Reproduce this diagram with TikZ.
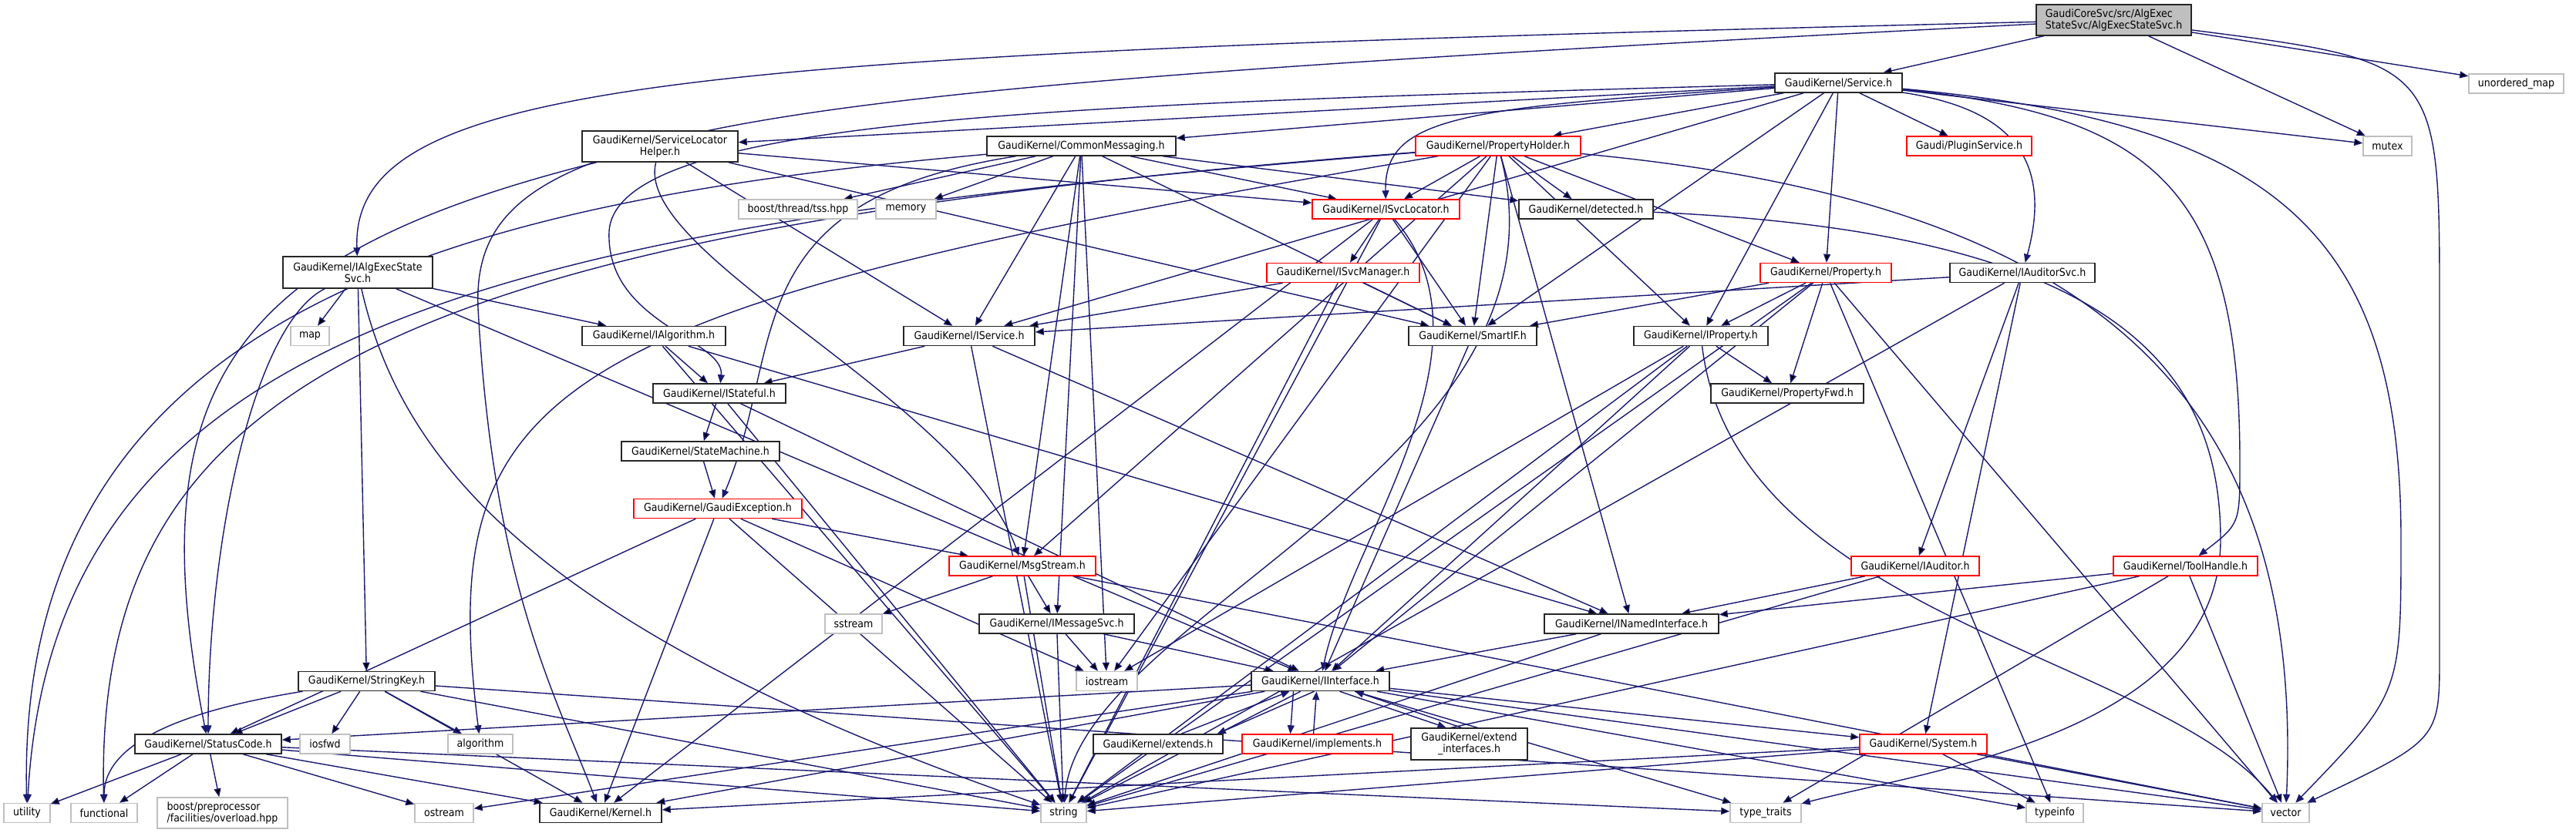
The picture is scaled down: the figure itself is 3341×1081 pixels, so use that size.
\documentclass[tikz,border=0pt]{standalone}
\usepackage{fontspec}
\setmainfont{DejaVu Sans Condensed}
\usetikzlibrary{arrows.meta,backgrounds}

\definecolor{depblue}{HTML}{191970}
\definecolor{sysgray}{HTML}{BFBFBF}

\begin{document}
\begin{tikzpicture}[x=1pt,y=-1pt,
  hdr/.style={draw=black!85,line width=1.5pt,fill=white,inner sep=0pt,align=center,
    font=\fontsize{14}{15}\selectfont},
  redhdr/.style={hdr,draw=red},
  syshdr/.style={hdr,draw=sysgray},
  dep/.style={draw=depblue,line width=1.4pt,-{Triangle[length=11pt,width=9pt]}}]
  \useasboundingbox (0,0) rectangle (3341,1081);

  % row 0 and 1
  \node[hdr,fill=sysgray,align=left,minimum width=201pt,minimum height=40pt] (aes) at (2741.5,26) {GaudiCoreSvc/src/AlgExec\\StateSvc/AlgExecStateSvc.h};
  \node[hdr,minimum width=165pt,minimum height=25pt] (service) at (2384.5,107.5) {GaudiKernel/Service.h};
  \node[syshdr,minimum width=123pt,minimum height=25pt] (umap) at (3263.5,108.5) {unordered\_map};

  % row 2
  \node[hdr,minimum width=202pt,minimum height=40pt] (slh) at (856,190) {GaudiKernel/ServiceLocator\\Helper.h};
  \node[hdr,minimum width=245pt,minimum height=25pt] (cmsg) at (1402.5,189.5) {GaudiKernel/CommonMessaging.h};
  \node[redhdr,minimum width=214pt,minimum height=25pt] (pholder) at (1943,189.5) {GaudiKernel/PropertyHolder.h};
  \node[redhdr,minimum width=162pt,minimum height=25pt] (plugin) at (2554,189.5) {Gaudi/PluginService.h};
  \node[syshdr,minimum width=63pt,minimum height=25pt] (mutex) at (3096.5,189.5) {mutex};

  % row 3
  \node[syshdr,minimum width=154pt,minimum height=25pt] (tss) at (1035,271.5) {boost/thread/tss.hpp};
  \node[syshdr,minimum width=78pt,minimum height=25pt] (memory) at (1175,271.5) {memory};
  \node[redhdr,minimum width=191pt,minimum height=25pt] (isvcloc) at (1797.5,271.5) {GaudiKernel/ISvcLocator.h};
  \node[hdr,minimum width=174pt,minimum height=25pt] (detected) at (2057,271.5) {GaudiKernel/detected.h};

  % row 4
  \node[hdr,minimum width=194pt,minimum height=41pt] (iaes) at (464,353.5) {GaudiKernel/IAlgExecState\\Svc.h};
  \node[redhdr,minimum width=198pt,minimum height=25pt] (isvcmgr) at (1742,354) {GaudiKernel/ISvcManager.h};
  \node[redhdr,minimum width=170pt,minimum height=25pt] (property) at (2368,354) {GaudiKernel/Property.h};
  \node[hdr,minimum width=188pt,minimum height=25pt] (iauditsvc) at (2623,354) {GaudiKernel/IAuditorSvc.h};

  % row 5
  \node[syshdr,minimum width=50pt,minimum height=25pt] (map) at (402,436) {map};
  \node[hdr,minimum width=186pt,minimum height=25pt] (ialg) at (848,436) {GaudiKernel/IAlgorithm.h};
  \node[hdr,minimum width=170pt,minimum height=25pt] (iservice) at (1257,436) {GaudiKernel/IService.h};
  \node[hdr,minimum width=166pt,minimum height=25pt] (smartif) at (1910,436) {GaudiKernel/SmartIF.h};
  \node[hdr,minimum width=174pt,minimum height=25pt] (iprop) at (2206,436) {GaudiKernel/IProperty.h};

  % row 6 to 8
  \node[hdr,minimum width=172pt,minimum height=25pt] (istateful) at (933,510.5) {GaudiKernel/IStateful.h};
  \node[hdr,minimum width=198pt,minimum height=25pt] (propfwd) at (2318,510.5) {GaudiKernel/PropertyFwd.h};
  \node[hdr,minimum width=205pt,minimum height=25pt] (statemach) at (908.5,585.5) {GaudiKernel/StateMachine.h};
  \node[redhdr,minimum width=218pt,minimum height=25pt] (gexcept) at (931,660) {GaudiKernel/GaudiException.h};

  % row 9 and 10
  \node[redhdr,minimum width=190pt,minimum height=25pt] (msgstream) at (1326,734.5) {GaudiKernel/MsgStream.h};
  \node[redhdr,minimum width=166pt,minimum height=25pt] (iauditor) at (2484,734.5) {GaudiKernel/IAuditor.h};
  \node[redhdr,minimum width=187pt,minimum height=25pt] (toolhandle) at (2834.5,734.5) {GaudiKernel/ToolHandle.h};
  \node[syshdr,minimum width=74pt,minimum height=25pt] (sstream) at (1107,809.5) {sstream};
  \node[hdr,minimum width=201pt,minimum height=25pt] (imsgsvc) at (1370.5,809.5) {GaudiKernel/IMessageSvc.h};
  \node[hdr,minimum width=226pt,minimum height=25pt] (inamed) at (2116,809.5) {GaudiKernel/INamedInterface.h};

  % row 11
  \node[hdr,minimum width=177pt,minimum height=25pt] (stringkey) at (475.5,884) {GaudiKernel/StringKey.h};
  \node[syshdr,minimum width=79pt,minimum height=25pt] (iostream) at (1435.5,884) {iostream};
  \node[hdr,minimum width=179pt,minimum height=25pt] (iinterface) at (1712.5,884) {GaudiKernel/IInterface.h};

  % row 12
  \node[hdr,minimum width=190pt,minimum height=25pt] (statuscode) at (270,965.5) {GaudiKernel/StatusCode.h};
  \node[syshdr,minimum width=65pt,minimum height=25pt] (iosfwd) at (421.5,965.5) {iosfwd};
  \node[syshdr,minimum width=84pt,minimum height=25pt] (algorithm) at (623,965.5) {algorithm};
  \node[hdr,minimum width=168pt,minimum height=25pt] (extends) at (1502,965.5) {GaudiKernel/extends.h};
  \node[redhdr,minimum width=195pt,minimum height=25pt] (implements) at (1708.5,965.5) {GaudiKernel/implements.h};
  \node[hdr,minimum width=151pt,minimum height=41pt] (extendif) at (1905.5,965.5) {GaudiKernel/extend\\\_interfaces.h};
  \node[redhdr,minimum width=165pt,minimum height=25pt] (system) at (2494.5,965.5) {GaudiKernel/System.h};

  % row 13
  \node[syshdr,minimum width=60pt,minimum height=25pt] (utility) at (35,1055) {utility};
  \node[syshdr,minimum width=86pt,minimum height=25pt] (functional) at (135,1055) {functional};
  \node[syshdr,align=left,minimum width=169pt,minimum height=40pt] (boostpp) at (288.5,1055) {boost/preprocessor\\/facilities/overload.hpp};
  \node[syshdr,minimum width=76pt,minimum height=25pt] (ostream) at (576,1055) {ostream};
  \node[hdr,minimum width=158pt,minimum height=25pt] (kernel) at (779,1055) {GaudiKernel/Kernel.h};
  \node[syshdr,minimum width=59pt,minimum height=25pt] (string) at (1379.5,1055) {string};
  \node[syshdr,minimum width=92pt,minimum height=25pt] (typetraits) at (2290,1055) {type\_traits};
  \node[syshdr,minimum width=74pt,minimum height=25pt] (typeinfo) at (2665,1055) {typeinfo};
  \node[syshdr,minimum width=61pt,minimum height=25pt] (vector) at (2964.5,1055) {vector};

  \begin{pgfonlayer}{background}
  % the service itself
  \draw[dep] (aes) edge (service) edge (umap) edge (mutex);
  \draw[dep] (aes) .. controls (900,70) and (455,100) .. (iaes);
  \draw[dep] (aes) .. controls (900,120) and (610,160) .. (620,400) .. controls (640,760) and (720,900) .. (kernel);
  \draw[dep] (aes) .. controls (3164,80) .. (3164,400) -- (3164,850) .. controls (3164,960) .. (vector);

  % Service.h
  \draw[dep] (service) edge (cmsg) edge (slh) edge (pholder) edge (iservice)
    edge (smartif) edge (iprop) edge (property) edge (plugin) edge (mutex);
  \draw[dep] (service) .. controls (1900,140) and (1795,150) .. (isvcloc);
  \draw[dep] (service) .. controls (1400,135) and (800,150) .. (790,300) .. controls (785,420) and (940,440) .. (istateful);
  \draw[dep] (service) .. controls (2600,140) and (2665,200) .. (iauditsvc);
  \draw[dep] (service) .. controls (2800,150) and (2905,250) .. (2905,600) .. controls (2905,680) .. (toolhandle);
  \draw[dep] (service) .. controls (2950,160) and (3114,300) .. (3114,700) .. controls (3114,900) .. (vector);

  % IAlgExecStateSvc.h
  \draw[dep] (iaes) edge (ialg) edge (map) edge (stringkey) edge (iinterface);
  \draw[dep] (iaes) .. controls (330,420) and (270,700) .. (statuscode);
  \draw[dep] (iaes) .. controls (520,600) and (700,820) .. (string);

  % ServiceLocatorHelper.h
  \draw[dep] (slh) edge (isvcloc) edge (iservice) edge (smartif);
  \draw[dep] (slh) .. controls (300,330) and (178,500) .. (statuscode);
  \draw[dep] (slh) .. controls (820,330) and (1250,520) .. (msgstream);

  % CommonMessaging.h
  \draw[dep] (cmsg) edge (tss) edge (memory) edge (iservice) edge (msgstream)
    edge (imsgsvc) edge (isvcloc) edge (smartif) edge (detected) edge (iostream);
  \draw[dep] (cmsg) .. controls (600,260) and (20,400) .. (utility);
  \draw[dep] (cmsg) .. controls (950,260) and (1020,450) .. (gexcept);

  % PropertyHolder.h
  \draw[dep] (pholder) edge (isvcloc) edge (detected) edge (iprop) edge (property)
    edge (inamed) edge (msgstream) edge (iostream) edge (smartif);
  \draw[dep] (pholder) .. controls (700,290) and (71,400) .. (utility);
  \draw[dep] (pholder) .. controls (500,300) and (122,500) .. (functional);
  \draw[dep] (pholder) .. controls (700,400) and (565,500) .. (algorithm);
  \draw[dep] (pholder) .. controls (2050,600) and (1400,800) .. (string);
  \draw[dep] (pholder) .. controls (2700,260) and (2990,500) .. (vector);

  % middle layer
  \draw[dep] (isvcloc) edge (isvcmgr) edge (smartif) edge (string) edge (kernel);
  \draw[dep] (isvcloc) .. controls (1950,450) and (1750,700) .. (iinterface);
  \draw[dep] (isvcmgr) edge (iservice) edge (smartif) edge (string);
  \draw[dep] (detected) .. controls (2700,300) and (2880,450) .. (2880,700) .. controls (2880,950) and (2500,1000) .. (typetraits);
  \draw[dep] (property) edge (iprop) edge (smartif) edge (propfwd) edge (string)
    edge (iinterface) edge (typeinfo) edge (vector);
  \draw[dep] (iprop) edge (propfwd) edge (iinterface) edge (string) edge (iostream);
  \draw[dep] (iprop) .. controls (2250,800) and (2800,850) .. (vector);
  \draw[dep] (iauditsvc) edge (iservice) edge (iauditor) edge (system) edge (string);
  \draw[dep] (ialg) edge (istateful) edge (inamed) edge (string);
  \draw[dep] (iservice) edge (istateful) edge (inamed) edge (string);
  \draw[dep] (istateful) edge (statemach) edge (iinterface) edge (string);
  \draw[dep] (statemach) edge (gexcept);
  \draw[dep] (gexcept) edge (msgstream) edge (statuscode) edge (iostream) edge (string) edge (kernel);
  \draw[dep] (msgstream) edge (sstream) edge (imsgsvc) edge (string) edge (vector);
  \draw[dep] (imsgsvc) edge (iostream) edge (iinterface) edge (string);
  \draw[dep] (iauditor) edge (inamed) edge (string);
  \draw[dep] (toolhandle) edge (inamed) edge (typetraits) edge (vector) edge (string);
  \draw[dep] (inamed) edge (iinterface) edge (string);
  \draw[dep] (smartif) edge (iinterface);

  % lower layer
  \draw[dep] (stringkey) edge (statuscode) edge (iosfwd) edge (algorithm) edge (kernel)
    edge (string) edge (vector);
  \draw[dep] (stringkey) .. controls (250,920) and (135,960) .. (functional);
  \draw[dep] (iinterface) edge (statuscode) edge (kernel) edge (ostream) edge (system)
    edge (typetraits) edge (typeinfo) edge (vector) edge (string);
  \draw[dep] ([xshift=-8pt]iinterface.south) -- ([xshift=-8pt]extends.north east);
  \draw[dep] ([xshift=30pt]extends.north) -- ([xshift=-40pt]iinterface.south);
  \draw[dep] ([xshift=-35pt]iinterface.south) -- ([xshift=-35pt]implements.north);
  \draw[dep] ([xshift=-5pt]implements.north) -- ([xshift=-5pt]iinterface.south);
  \draw[dep] ([xshift=25pt]iinterface.south) -- ([xshift=-30pt]extendif.north);
  \draw[dep] ([xshift=-10pt]extendif.north) -- ([xshift=45pt]iinterface.south);
  \draw[dep] (statuscode) edge (utility) edge (functional) edge (boostpp) edge (ostream)
    edge (kernel) edge (string) edge (typetraits);
  \draw[dep] (system) edge (kernel) edge (string) edge (typeinfo) edge (vector);
  \end{pgfonlayer}
\end{tikzpicture}
\end{document}
